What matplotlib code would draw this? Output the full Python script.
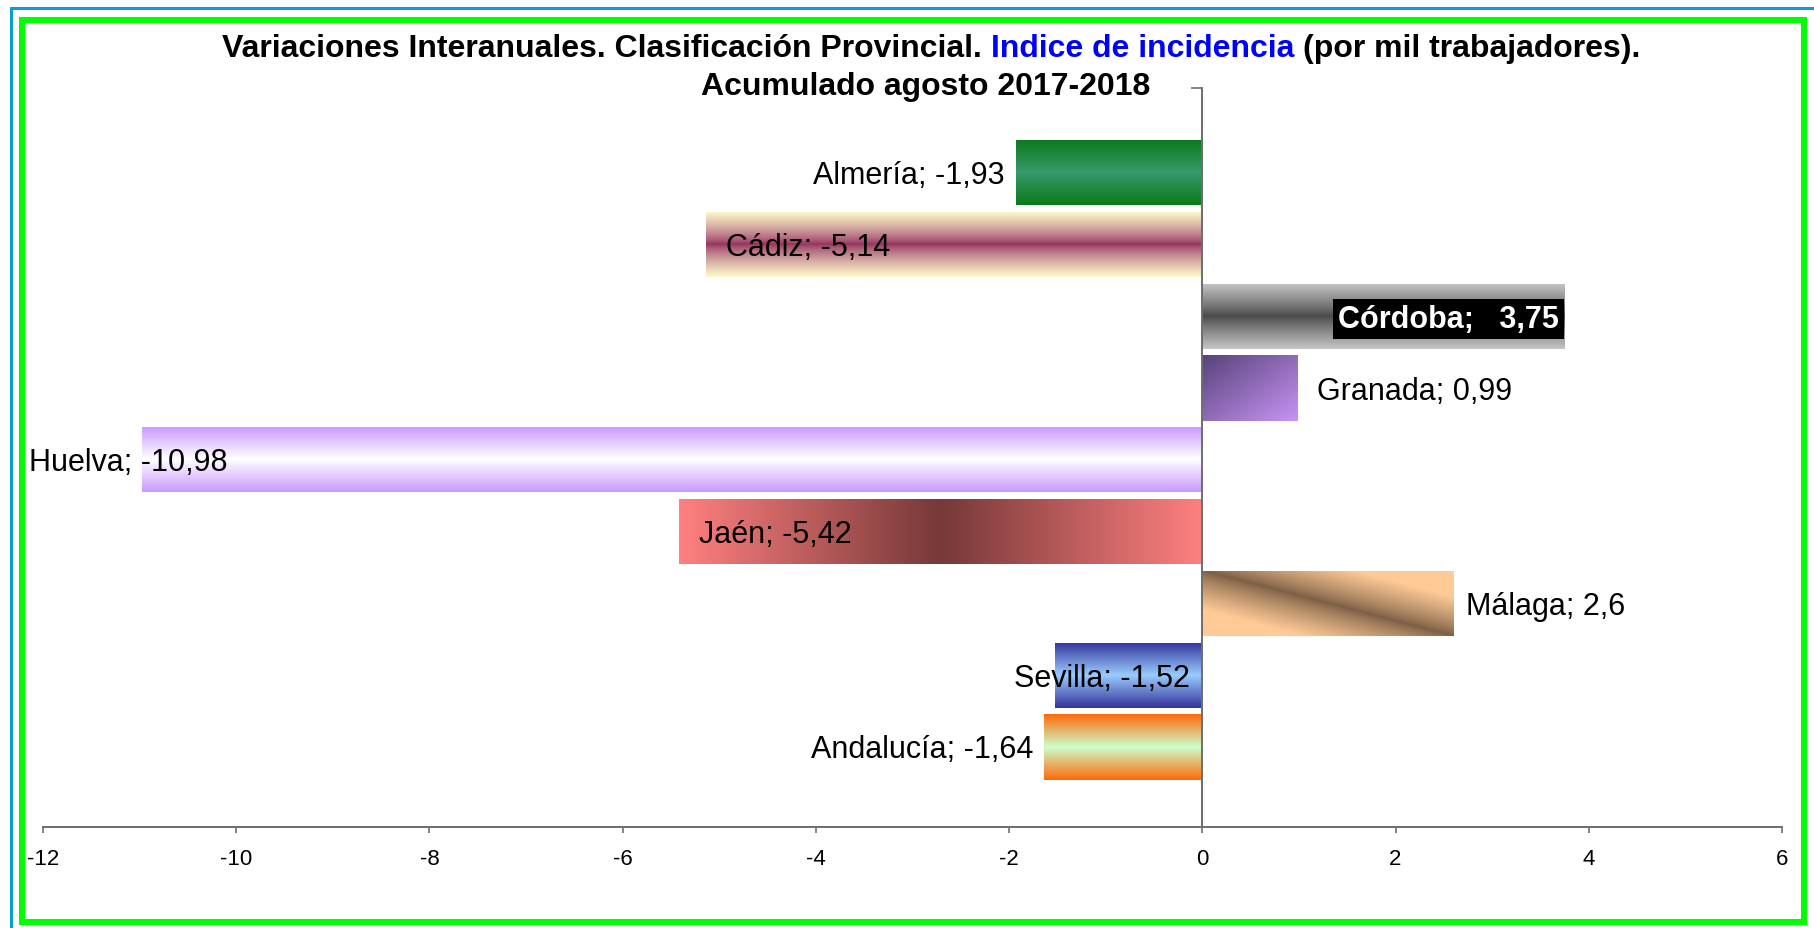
import numpy as np
import matplotlib
matplotlib.use('Agg')
import matplotlib.pyplot as plt
from matplotlib.patches import Rectangle
from matplotlib.colors import to_rgb

# ---------------- data ----------------
provincias = ['Almería', 'Cádiz', 'Córdoba', 'Granada', 'Huelva', 'Jaén',
              'Málaga', 'Sevilla', 'Andalucía']
variaciones = [-1.93, -5.14, 3.75, 0.99, -10.98, -5.42, 2.6, -1.52, -1.64]
xticks = [-12, -10, -8, -6, -4, -2, 0, 2, 4, 6]
titulo_1 = ['Variaciones Interanuales. Clasificación Provincial.',
            'Indice de incidencia', '(por mil trabajadores).']
titulo_2 = 'Acumulado agosto 2017-2018'

# ---------------- styles ----------------
W, H = 1814, 929
FONT = 'Liberation Sans'
GRAY = '#6e6e6e'
PX2PT = 72 / 100.0

fig = plt.figure(figsize=(W / 100, H / 100), dpi=100)
fig.patch.set_facecolor('white')

ax_left, ax_right = 43, 1782
ax_top, ax_bot = 89, 828
ax = fig.add_axes([ax_left / W, 1 - ax_bot / H, (ax_right - ax_left) / W,
                   (ax_bot - ax_top) / H])
ax.set_facecolor('none')

ypos = np.arange(len(provincias))
bar_h = 0.91
bars = ax.barh(ypos, variaciones, height=bar_h, color='none',
               edgecolor='none', zorder=2)


def hex3(c):
    return np.array(to_rgb(c))


def grad_img(kind, c1, c2, n=160, m=400, power=1.0, width=1.0):
    v = np.linspace(0, 1, n)[:, None] * np.ones((1, m))
    u = np.linspace(0, 1, m)[None, :] * np.ones((n, 1))
    if kind == 'v':       # c1 edges, c2 centre (across height)
        t = np.abs(v - 0.5) * 2
    elif kind == 'h':     # c1 ends, c2 centre (along length)
        t = np.abs(u - 0.5) * 2
    elif kind == 'diag':  # c1 top-left -> c2 bottom-right
        t = 1 - (u + v) / 2
    elif kind == 'band':  # c2 along diagonal, c1 away
        t = np.clip(np.abs(u - v) / width, 0, 1)
    t = t ** power
    a, b = hex3(c1), hex3(c2)
    img = b[None, None, :] + (a - b)[None, None, :] * t[..., None]
    return np.clip(img, 0, 1)


fills = [
    ('v', '#0c7a1a', '#35996a', 1.0, 1.0),   # Almería
    ('v', '#fffacc', '#943060', 0.75, 1.0),  # Cádiz
    ('v', '#c6c6c6', '#4a4a4a', 0.9, 1.0),   # Córdoba
    ('diag', '#58427a', '#c794f5', 1.0, 1.0),  # Granada
    ('v', '#c998ff', '#ffffff', 1.0, 1.0),   # Huelva
    ('h', '#ff8080', '#763838', 1.0, 1.0),   # Jaén
    ('band', '#ffca96', '#7a5e44', 0.8, 0.6),  # Málaga
    ('v', '#333399', '#99ccff', 1.0, 1.0),   # Sevilla
    ('v', '#ff6a0a', '#ccffcc', 1.0, 1.0),   # Andalucía
]

for bar, (kind, c1, c2, pw, wd) in zip(bars, fills):
    x0 = bar.get_x()
    w = bar.get_width()
    y0 = bar.get_y()
    h = bar.get_height()
    img = grad_img(kind, c1, c2, power=pw, width=wd)
    if kind == 'diag' and w < 0:
        img = img[:, ::-1]
    im = ax.imshow(img, extent=[min(x0, x0 + w), max(x0, x0 + w), y0 + h, y0],
                   aspect='auto', interpolation='bilinear', zorder=2,
                   origin='upper')
    im.set_clip_path(bar)

# ---------------- labels ----------------
def fmt(v):
    s = ('%g' % v).replace('.', ',')
    return s

# (anchor x: 'end' or 'zero', ha, dx in px)
label_pos = [('end', 'right', -11), ('end', 'left', 20), ('end', 'right', -6),
             ('end', 'left', 19), ('end', 'left', -113), ('end', 'left', 20),
             ('end', 'left', 12), ('zero', 'right', -12), ('end', 'right', -11)]
DY = -2.5  # px, small downward shift to centre the caps on the bar

for i, (name, v) in enumerate(zip(provincias, variaciones)):
    anc, ha, dx = label_pos[i]
    x = v if anc == 'end' else 0
    if name == 'Córdoba':
        ax.annotate(name + ';   ' + fmt(v), xy=(x, ypos[i]),
                    xytext=(dx * PX2PT, DY * PX2PT), textcoords='offset points',
                    ha=ha, va='center', fontsize=22, fontweight='bold',
                    color='white', family=FONT, zorder=5,
                    bbox=dict(boxstyle='square,pad=0.16', fc='black', ec='none'))
    else:
        ax.annotate(name + '; ' + fmt(v), xy=(x, ypos[i]),
                    xytext=(dx * PX2PT, DY * PX2PT), textcoords='offset points',
                    ha=ha, va='center', fontsize=22, color='black',
                    family=FONT, zorder=5, annotation_clip=False)

# ---------------- axes ----------------
ytop, ybot = (ax_top - 173.6) / 71.8, (ax_bot - 173.6) / 71.8
ax.set_ylim(ybot, ytop)
ax.set_xlim(xticks[0], xticks[-1])
ax.set_xticks(xticks)
ax.set_xticklabels([str(t) for t in xticks], family=FONT, fontsize=16)
ax.tick_params(axis='x', direction='out', length=4.5, width=1.2, color=GRAY,
               pad=10.5)
ax.set_yticks([ytop])
ax.tick_params(axis='y', direction='out', length=8, width=1.2, color=GRAY,
               labelleft=False)
for s in ['top', 'right']:
    ax.spines[s].set_visible(False)
ax.spines['left'].set_position(('data', 0))
ax.spines['left'].set_color(GRAY)
ax.spines['left'].set_linewidth(1.4)
ax.spines['left'].set_zorder(3)
ax.spines['bottom'].set_color(GRAY)
ax.spines['bottom'].set_linewidth(1.4)

# ---------------- title ----------------
renderer = fig.canvas.get_renderer()


def tw(s, size):
    t = fig.text(0, 0, s, fontsize=size, fontweight='bold', family=FONT)
    w = t.get_window_extent(renderer).width
    t.remove()
    return w


def title_line(pieces, colors, cy, size, cx):
    sp = tw('a a', size) - tw('aa', size)
    widths = [tw(p, size) for p in pieces]
    total = sum(widths) + sp * (len(pieces) - 1)
    x = cx - total / 2
    for p, c, w in zip(pieces, colors, widths):
        fig.text(x / W, 1 - cy / H, p, fontsize=size, fontweight='bold',
                 family=FONT, color=c, ha='left', va='center')
        x += w + sp


title_line(titulo_1, ['black', '#0000ff', 'black'], 49, 23, 931)
title_line([titulo_2], ['black'], 87, 23, 926)

# ---------------- borders ----------------
fig.add_artist(Rectangle((22 / W, 1 - 923 / H), (1804 - 22) / W, (923 - 20.5) / H,
                         transform=fig.transFigure, fill=False,
                         ec='#00ff00', lw=6 * PX2PT))
fig.add_artist(Rectangle((10.5 / W, -0.05), 1.1, 1 - 8.5 / H + 0.05,
                         transform=fig.transFigure, fill=False,
                         ec='#0a9ddc', lw=3 * PX2PT))

fig.savefig('out.png', dpi=100, facecolor='white')
